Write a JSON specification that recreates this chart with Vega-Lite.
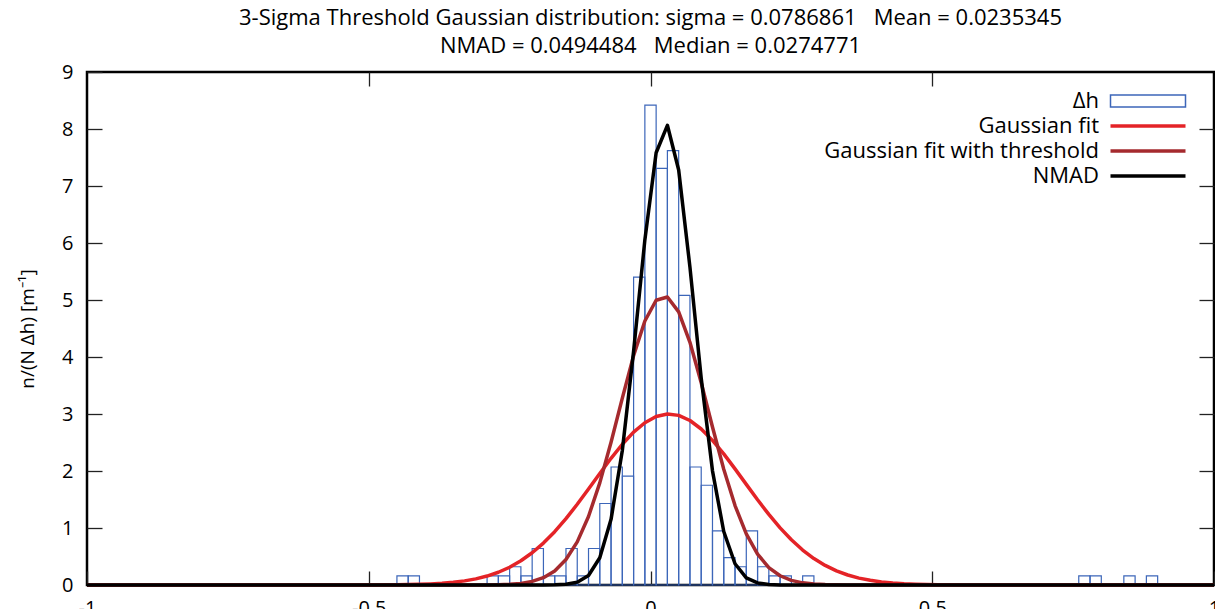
{
  "$schema": "https://vega.github.io/schema/vega-lite/v6.json",
  "width": 1127,
  "height": 513,
  "autosize": {"type": "none"},
  "padding": {"left": 87, "top": 72, "right": 1, "bottom": 24},
  "background": "white",
  "config": {
    "font": "Open Sans",
    "view": {"stroke": "black", "strokeWidth": 2.5},
    "axis": {"grid": false, "domain": false, "tickColor": "#222", "tickWidth": 1.3, "labelColor": "black", "titleColor": "black", "labelFontSize": 20, "titleFontSize": 19, "titleFontWeight": "normal"}
  },
  "title": {
    "text": ["3-Sigma Threshold Gaussian distribution: sigma = 0.0786861\u00a0\u00a0\u00a0Mean = 0.0235345", "NMAD = 0.0494484\u00a0\u00a0\u00a0Median = 0.0274771"],
    "fontSize": 22,
    "fontWeight": "normal",
    "color": "black",
    "lineHeight": 28,
    "offset": 4,
    "anchor": "middle"
  },
  "datasets": {
    "hist": [
      {"x0": -0.45, "x1": -0.43, "d": 0.16},
      {"x0": -0.43, "x1": -0.41, "d": 0.16},
      {"x0": -0.29, "x1": -0.27, "d": 0.16},
      {"x0": -0.27, "x1": -0.25, "d": 0.16},
      {"x0": -0.25, "x1": -0.23, "d": 0.32},
      {"x0": -0.23, "x1": -0.21, "d": 0.16},
      {"x0": -0.21, "x1": -0.19, "d": 0.64},
      {"x0": -0.19, "x1": -0.17, "d": 0.16},
      {"x0": -0.17, "x1": -0.15, "d": 0.16},
      {"x0": -0.15, "x1": -0.13, "d": 0.64},
      {"x0": -0.13, "x1": -0.11, "d": 0.16},
      {"x0": -0.11, "x1": -0.09, "d": 0.64},
      {"x0": -0.09, "x1": -0.07, "d": 1.43},
      {"x0": -0.07, "x1": -0.05, "d": 2.07},
      {"x0": -0.05, "x1": -0.03, "d": 1.91},
      {"x0": -0.03, "x1": -0.01, "d": 5.40},
      {"x0": -0.01, "x1": 0.01, "d": 8.42},
      {"x0": 0.01, "x1": 0.03, "d": 7.31},
      {"x0": 0.03, "x1": 0.05, "d": 7.62},
      {"x0": 0.05, "x1": 0.07, "d": 5.08},
      {"x0": 0.07, "x1": 0.09, "d": 2.07},
      {"x0": 0.09, "x1": 0.11, "d": 1.75},
      {"x0": 0.11, "x1": 0.13, "d": 0.95},
      {"x0": 0.13, "x1": 0.15, "d": 0.48},
      {"x0": 0.15, "x1": 0.17, "d": 0.32},
      {"x0": 0.17, "x1": 0.19, "d": 0.95},
      {"x0": 0.19, "x1": 0.21, "d": 0.32},
      {"x0": 0.21, "x1": 0.23, "d": 0.16},
      {"x0": 0.23, "x1": 0.25, "d": 0.16},
      {"x0": 0.27, "x1": 0.29, "d": 0.16},
      {"x0": 0.76, "x1": 0.78, "d": 0.16},
      {"x0": 0.78, "x1": 0.80, "d": 0.16},
      {"x0": 0.84, "x1": 0.86, "d": 0.16},
      {"x0": 0.88, "x1": 0.90, "d": 0.16}
    ],
    "curves": [
      {"x": -1, "Gaussian fit": 0, "Gaussian fit with threshold": 0, "NMAD": 0},
      {"x": -0.59, "Gaussian fit": 0.0001, "Gaussian fit with threshold": 0, "NMAD": 0},
      {"x": -0.57, "Gaussian fit": 0.0001, "Gaussian fit with threshold": 0, "NMAD": 0},
      {"x": -0.55, "Gaussian fit": 0.0002, "Gaussian fit with threshold": 0, "NMAD": 0},
      {"x": -0.53, "Gaussian fit": 0.0004, "Gaussian fit with threshold": 0, "NMAD": 0},
      {"x": -0.51, "Gaussian fit": 0.0007, "Gaussian fit with threshold": 0, "NMAD": 0},
      {"x": -0.49, "Gaussian fit": 0.0013, "Gaussian fit with threshold": 0, "NMAD": 0},
      {"x": -0.47, "Gaussian fit": 0.0023, "Gaussian fit with threshold": 0, "NMAD": 0},
      {"x": -0.45, "Gaussian fit": 0.0041, "Gaussian fit with threshold": 0, "NMAD": 0},
      {"x": -0.43, "Gaussian fit": 0.0070, "Gaussian fit with threshold": 0, "NMAD": 0},
      {"x": -0.41, "Gaussian fit": 0.0117, "Gaussian fit with threshold": 0, "NMAD": 0},
      {"x": -0.39, "Gaussian fit": 0.0191, "Gaussian fit with threshold": 0, "NMAD": 0},
      {"x": -0.37, "Gaussian fit": 0.0304, "Gaussian fit with threshold": 0, "NMAD": 0},
      {"x": -0.35, "Gaussian fit": 0.0475, "Gaussian fit with threshold": 0.0001, "NMAD": 0},
      {"x": -0.33, "Gaussian fit": 0.0723, "Gaussian fit with threshold": 0.0002, "NMAD": 0},
      {"x": -0.31, "Gaussian fit": 0.1079, "Gaussian fit with threshold": 0.0006, "NMAD": 0},
      {"x": -0.29, "Gaussian fit": 0.1572, "Gaussian fit with threshold": 0.0018, "NMAD": 0},
      {"x": -0.27, "Gaussian fit": 0.2239, "Gaussian fit with threshold": 0.0048, "NMAD": 0},
      {"x": -0.25, "Gaussian fit": 0.3118, "Gaussian fit with threshold": 0.0121, "NMAD": 0},
      {"x": -0.23, "Gaussian fit": 0.4246, "Gaussian fit with threshold": 0.0283, "NMAD": 0},
      {"x": -0.21, "Gaussian fit": 0.5652, "Gaussian fit with threshold": 0.0622, "NMAD": 0.0001},
      {"x": -0.19, "Gaussian fit": 0.7355, "Gaussian fit with threshold": 0.1279, "NMAD": 0.0005},
      {"x": -0.17, "Gaussian fit": 0.9359, "Gaussian fit with threshold": 0.2467, "NMAD": 0.0027},
      {"x": -0.15, "Gaussian fit": 1.164, "Gaussian fit with threshold": 0.4463, "NMAD": 0.0127},
      {"x": -0.13, "Gaussian fit": 1.416, "Gaussian fit with threshold": 0.7565, "NMAD": 0.0500},
      {"x": -0.11, "Gaussian fit": 1.683, "Gaussian fit with threshold": 1.2026, "NMAD": 0.1678},
      {"x": -0.09, "Gaussian fit": 1.956, "Gaussian fit with threshold": 1.792, "NMAD": 0.4773},
      {"x": -0.07, "Gaussian fit": 2.223, "Gaussian fit with threshold": 2.503, "NMAD": 1.1515},
      {"x": -0.05, "Gaussian fit": 2.469, "Gaussian fit with threshold": 3.278, "NMAD": 2.359},
      {"x": -0.03, "Gaussian fit": 2.682, "Gaussian fit with threshold": 4.024, "NMAD": 4.102},
      {"x": -0.01, "Gaussian fit": 2.847, "Gaussian fit with threshold": 4.631, "NMAD": 6.054},
      {"x": 0.01, "Gaussian fit": 2.956, "Gaussian fit with threshold": 4.996, "NMAD": 7.584},
      {"x": 0.03, "Gaussian fit": 2.999, "Gaussian fit with threshold": 5.053, "NMAD": 8.065},
      {"x": 0.05, "Gaussian fit": 2.976, "Gaussian fit with threshold": 4.791, "NMAD": 7.280},
      {"x": 0.07, "Gaussian fit": 2.886, "Gaussian fit with threshold": 4.258, "NMAD": 5.577},
      {"x": 0.09, "Gaussian fit": 2.737, "Gaussian fit with threshold": 3.548, "NMAD": 3.627},
      {"x": 0.11, "Gaussian fit": 2.537, "Gaussian fit with threshold": 2.771, "NMAD": 2.003},
      {"x": 0.13, "Gaussian fit": 2.300, "Gaussian fit with threshold": 2.030, "NMAD": 0.9383},
      {"x": 0.15, "Gaussian fit": 2.037, "Gaussian fit with threshold": 1.393, "NMAD": 0.3732},
      {"x": 0.17, "Gaussian fit": 1.765, "Gaussian fit with threshold": 0.8964, "NMAD": 0.1260},
      {"x": 0.19, "Gaussian fit": 1.495, "Gaussian fit with threshold": 0.5405, "NMAD": 0.0361},
      {"x": 0.21, "Gaussian fit": 1.238, "Gaussian fit with threshold": 0.3059, "NMAD": 0.0088},
      {"x": 0.23, "Gaussian fit": 1.002, "Gaussian fit with threshold": 0.1622, "NMAD": 0.0018},
      {"x": 0.25, "Gaussian fit": 0.7926, "Gaussian fit with threshold": 0.0806, "NMAD": 0.0003},
      {"x": 0.27, "Gaussian fit": 0.6132, "Gaussian fit with threshold": 0.0376, "NMAD": 0},
      {"x": 0.29, "Gaussian fit": 0.4638, "Gaussian fit with threshold": 0.0164, "NMAD": 0},
      {"x": 0.31, "Gaussian fit": 0.3430, "Gaussian fit with threshold": 0.0067, "NMAD": 0},
      {"x": 0.33, "Gaussian fit": 0.2480, "Gaussian fit with threshold": 0.0026, "NMAD": 0},
      {"x": 0.35, "Gaussian fit": 0.1752, "Gaussian fit with threshold": 0.0009, "NMAD": 0},
      {"x": 0.37, "Gaussian fit": 0.1211, "Gaussian fit with threshold": 0.0003, "NMAD": 0},
      {"x": 0.39, "Gaussian fit": 0.0818, "Gaussian fit with threshold": 0.0001, "NMAD": 0},
      {"x": 0.41, "Gaussian fit": 0.0540, "Gaussian fit with threshold": 0, "NMAD": 0},
      {"x": 0.43, "Gaussian fit": 0.0349, "Gaussian fit with threshold": 0, "NMAD": 0},
      {"x": 0.45, "Gaussian fit": 0.0220, "Gaussian fit with threshold": 0, "NMAD": 0},
      {"x": 0.47, "Gaussian fit": 0.0136, "Gaussian fit with threshold": 0, "NMAD": 0},
      {"x": 0.49, "Gaussian fit": 0.0082, "Gaussian fit with threshold": 0, "NMAD": 0},
      {"x": 0.51, "Gaussian fit": 0.0048, "Gaussian fit with threshold": 0, "NMAD": 0},
      {"x": 0.53, "Gaussian fit": 0.0028, "Gaussian fit with threshold": 0, "NMAD": 0},
      {"x": 0.55, "Gaussian fit": 0.0016, "Gaussian fit with threshold": 0, "NMAD": 0},
      {"x": 0.57, "Gaussian fit": 0.0009, "Gaussian fit with threshold": 0, "NMAD": 0},
      {"x": 0.59, "Gaussian fit": 0.0005, "Gaussian fit with threshold": 0, "NMAD": 0},
      {"x": 0.61, "Gaussian fit": 0.0002, "Gaussian fit with threshold": 0, "NMAD": 0},
      {"x": 0.63, "Gaussian fit": 0.0001, "Gaussian fit with threshold": 0, "NMAD": 0},
      {"x": 0.65, "Gaussian fit": 0, "Gaussian fit with threshold": 0, "NMAD": 0},
      {"x": 1, "Gaussian fit": 0, "Gaussian fit with threshold": 0, "NMAD": 0}
    ]
  },
  "layer": [
    {
      "data": {"name": "hist"},
      "mark": {"type": "bar", "filled": false, "strokeWidth": 1.2, "opacity": 1},
      "encoding": {
        "x": {"field": "x0", "type": "quantitative", "scale": {"domain": [-1, 1], "nice": false, "zero": false},
              "axis": {"orient": "bottom", "values": [-1, -0.5, 0, 0.5, 1], "offset": -14, "tickSize": 14, "labelPadding": 13, "labelFlush": false, "labelExpr": "replace(format(datum.value, '~g'), '−', '-')", "title": null}},
        "x2": {"field": "x1"},
        "y": {"field": "d", "type": "quantitative", "scale": {"domain": [0, 9], "nice": false},
              "axis": {"orient": "left", "values": [0, 1, 2, 3, 4, 5, 6, 7, 8, 9], "offset": -15, "tickSize": 15, "labelPadding": 14, "labelFlush": false, "title": "n/(N Δh) [m⁻¹]", "titlePadding": 24}},
        "y2": {"datum": 0},
        "color": {"datum": "Δh", "type": "nominal",
                  "scale": {"domain": ["Δh", "Gaussian fit", "Gaussian fit with threshold", "NMAD"], "range": ["#3c66b9", "#e42327", "#a52a2e", "#000000"]}}
      }
    },
    {
      "data": {"name": "curves"},
      "transform": [{"fold": ["Gaussian fit", "Gaussian fit with threshold", "NMAD"], "as": ["series", "y"]}],
      "mark": {"type": "line", "strokeWidth": 3.5, "strokeJoin": "round"},
      "encoding": {
        "x": {"field": "x", "type": "quantitative",
              "axis": {"orient": "top", "values": [-0.5, 0, 0.5], "offset": -14, "tickSize": 14, "labels": false, "title": null}},
        "y": {"field": "y", "type": "quantitative",
              "axis": {"orient": "right", "values": [1, 2, 3, 4, 5, 6, 7, 8], "offset": -15, "tickSize": 15, "labels": false, "title": null}},
        "color": {"field": "series", "type": "nominal",
                  "legend": {
                    "orient": "none", "legendX": 1050, "legendY": 18, "title": null, "padding": 0,
                    "labelFontSize": 22, "labelColor": "black", "labelAlign": "right", "labelOffset": -60, "labelLimit": 0,
                    "symbolSize": 100, "symbolStrokeWidth": 3.5, "rowPadding": 3,
                    "encode": {"symbols": {"update": {
                      "shape": {"signal": "datum.value === 'Δh' ? 'M-7.5,-1.2H7.5V1.2H-7.5Z' : 'M-7.5,0H7.5'"},
                      "strokeWidth": {"signal": "datum.value === 'Δh' ? 1.5 : 3.5"},
                      "fill": {"value": "transparent"},
                      "opacity": {"value": 1}
                    }}}
                  }}
      }
    }
  ],
  "resolve": {"axis": {"x": "independent", "y": "independent"}}
}
